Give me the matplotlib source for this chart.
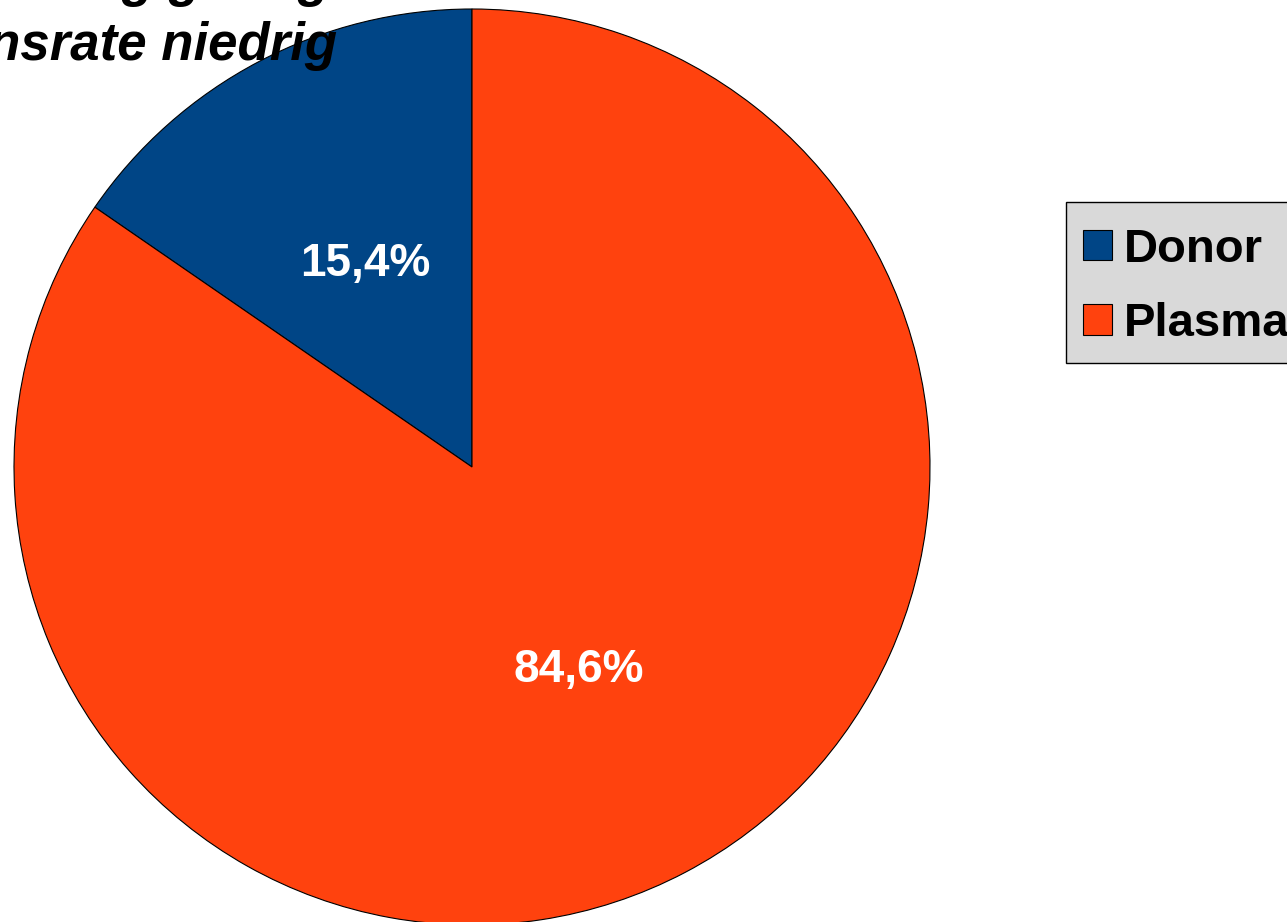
import matplotlib
matplotlib.use("Agg")
import matplotlib.pyplot as plt
from matplotlib.patches import Rectangle

plt.rcParams["font.family"] = ["Liberation Sans", "DejaVu Sans"]

# Share of cases by source
categories = ["Donor", "Plasma"]
shares = [15.4, 84.6]
colors = ["#004586", "#ff420e"]
title_lines = ["Spenderbindung gering", "Konversionsrate niedrig"]

W, H = 1287, 922
fig = plt.figure(figsize=(W / 100, H / 100), dpi=100)
ax = fig.add_axes([0, 0, 1, 1])

def pct_label(p):
    return f"{p:.1f}%".replace(".", ",")

wedges, texts, autotexts = ax.pie(
    shares,
    colors=colors,
    startangle=90,
    counterclock=True,
    center=(472, H - 467),
    radius=458,
    autopct=pct_label,
    pctdistance=0.5,
    wedgeprops=dict(edgecolor="black", linewidth=0.8),
    textprops=dict(color="white", fontsize=33, fontweight="bold"),
    frame=True,
)
ax.set_xlim(0, W)
ax.set_ylim(0, H)
ax.set_aspect("equal")
ax.axis("off")

# Title, partly running off the top-left edge
fig.text(330 / W, 1 - (-4) / H, title_lines[0], ha="right", va="baseline",
         fontsize=38, fontweight="bold", fontstyle="italic", color="black")
fig.text(337 / W, 1 - 60 / H, title_lines[1], ha="right", va="baseline",
         fontsize=38, fontweight="bold", fontstyle="italic", color="black")

# Legend box (grey panel, running off the right edge)
ax.add_patch(Rectangle((1066, H - 363), 260, 161, facecolor="#d9d9d9",
                       edgecolor="black", linewidth=1.0, clip_on=False,
                       zorder=4))

leg = ax.legend(
    wedges, categories,
    loc="upper left",
    bbox_to_anchor=(1083 / W, 1 - 227.5 / H),
    bbox_transform=fig.transFigure,
    borderaxespad=0,
    prop=dict(weight="bold", size=34),
    handlelength=0.62,
    handleheight=0.62,
    handletextpad=0.25,
    borderpad=0,
    labelspacing=0.65,
    frameon=False,
)
leg.set_zorder(5)

fig.savefig("out.png", dpi=100)
